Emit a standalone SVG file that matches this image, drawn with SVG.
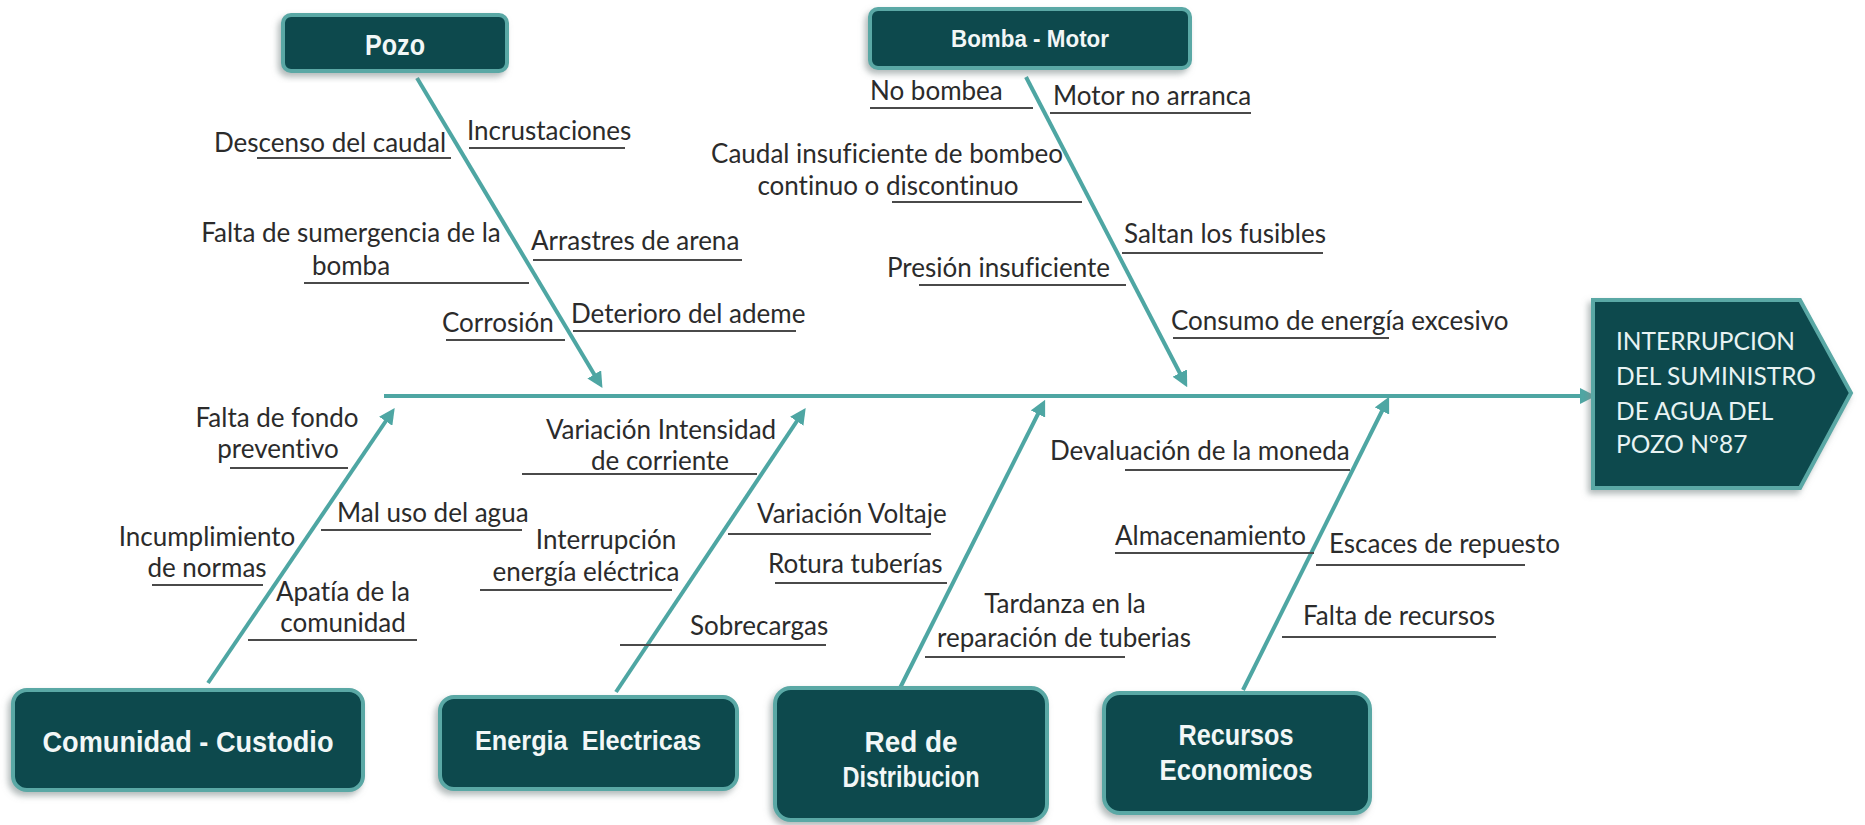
<svg xmlns="http://www.w3.org/2000/svg" width="1865" height="825" viewBox="0 0 1865 825">
  <defs>
    <style>
      .lbl { font-family: Lato, "Liberation Sans", sans-serif; font-size: 26px; fill: #2b2b2b; font-variant-ligatures: none; }
      .ul { stroke: #4a4a4a; stroke-width: 2; fill: none; }
      .box { fill: #0c4a4d; stroke: #5aa8a5; stroke-width: 4; filter: url(#sh); }
      .ttl { font-family: "Liberation Sans", Arial, sans-serif; font-weight: bold; fill: #f2f7f7; text-anchor: middle; }
      .eff { font-family: Lato, "Liberation Sans", sans-serif; font-size: 24.5px; fill: #e8f3f3; font-variant-ligatures: none; }
      .con { stroke: #4ea6a3; stroke-width: 4; fill: none; marker-end: url(#ah); }
    </style>
    <marker id="ah" viewBox="0 0 10 10" refX="7" refY="5" markerWidth="4" markerHeight="4" orient="auto" markerUnits="strokeWidth">
      <path d="M0,0 L10,5 L0,10 z" fill="#4ea6a3"/>
    </marker>
    <filter id="sh" x="-10%" y="-20%" width="120%" height="140%">
      <feDropShadow dx="-3" dy="4" stdDeviation="3" flood-color="#7f8c8c" flood-opacity="0.6"/>
    </filter>
  </defs>
  <rect width="1865" height="825" fill="#ffffff"/>

  <g id="connectors">
    <line class="con" x1="384" y1="396" x2="1591" y2="396"/>
    <line class="con" x1="417" y1="78" x2="600" y2="384"/>
    <line class="con" x1="1026" y1="77" x2="1185" y2="383"/>
    <line class="con" x1="208" y1="683" x2="392" y2="412"/>
    <line class="con" x1="616" y1="692" x2="803" y2="412"/>
    <line class="con" x1="900" y1="688" x2="1043" y2="404"/>
    <line class="con" x1="1243" y1="690" x2="1387" y2="401"/>
  </g>

  <g id="node-pozo">
    <rect class="box" x="283" y="15" width="224" height="56" rx="8"/>
    <text class="ttl" x="395" y="55" font-size="29" textLength="60" lengthAdjust="spacingAndGlyphs">Pozo</text>
  </g>
  <g id="node-bomba">
    <rect class="box" x="870" y="9" width="320" height="59" rx="8"/>
    <text class="ttl" x="1030" y="47" font-size="23" textLength="158" lengthAdjust="spacingAndGlyphs">Bomba - Motor</text>
  </g>
  <g id="node-comunidad">
    <rect class="box" x="13" y="690" width="350" height="100" rx="14"/>
    <text class="ttl" x="188" y="752" font-size="29" textLength="291" lengthAdjust="spacingAndGlyphs">Comunidad - Custodio</text>
  </g>
  <g id="node-energia">
    <rect class="box" x="440" y="697" width="297" height="92" rx="14"/>
    <text class="ttl" x="588" y="750" font-size="27" textLength="226" lengthAdjust="spacingAndGlyphs" xml:space="preserve">Energia  Electricas</text>
  </g>
  <g id="node-red">
    <rect class="box" x="775" y="688" width="272" height="132" rx="16"/>
    <text class="ttl" x="911" y="752" font-size="29" textLength="93" lengthAdjust="spacingAndGlyphs">Red de</text>
    <text class="ttl" x="911" y="787" font-size="29" textLength="137" lengthAdjust="spacingAndGlyphs">Distribucion</text>
  </g>
  <g id="node-recursos">
    <rect class="box" x="1104" y="693" width="266" height="120" rx="16"/>
    <text class="ttl" x="1236" y="745" font-size="29" textLength="115" lengthAdjust="spacingAndGlyphs">Recursos</text>
    <text class="ttl" x="1236" y="780" font-size="29" textLength="153" lengthAdjust="spacingAndGlyphs">Economicos</text>
  </g>
  <g id="node-efecto">
    <polygon class="box" points="1593,300 1800,300 1851,393 1800,488 1593,488"/>
    <text class="eff" x="1616" y="350">INTERRUPCION</text>
    <text class="eff" x="1616" y="385">DEL SUMINISTRO</text>
    <text class="eff" x="1616" y="420">DE AGUA DEL</text>
    <text class="eff" x="1616" y="453">POZO N°87</text>
  </g>

  <g id="causes-pozo">
    <text class="lbl" x="214" y="152">Descenso del caudal</text>
    <line class="ul" x1="257" y1="158" x2="451" y2="158"/>
    <text class="lbl" x="467" y="140">Incrustaciones</text>
    <line class="ul" x1="469" y1="148" x2="625" y2="148"/>
    <text class="lbl" x="351" y="242" text-anchor="middle">Falta de sumergencia de la</text>
    <text class="lbl" x="351" y="275" text-anchor="middle">bomba</text>
    <line class="ul" x1="304" y1="283" x2="529" y2="283"/>
    <text class="lbl" x="531" y="250">Arrastres de arena</text>
    <line class="ul" x1="533" y1="260" x2="742" y2="260"/>
    <text class="lbl" x="442" y="332">Corrosión</text>
    <line class="ul" x1="446" y1="340" x2="565" y2="340"/>
    <text class="lbl" x="571" y="323">Deterioro del ademe</text>
    <line class="ul" x1="573" y1="331" x2="796" y2="331"/>
  </g>

  <g id="causes-bomba">
    <text class="lbl" x="870" y="100">No bombea</text>
    <line class="ul" x1="870" y1="108" x2="1033" y2="108"/>
    <text class="lbl" x="1053" y="105">Motor no arranca</text>
    <line class="ul" x1="1050" y1="113" x2="1251" y2="113"/>
    <text class="lbl" x="887" y="163" text-anchor="middle">Caudal insuficiente de bombeo</text>
    <text class="lbl" x="888" y="195" text-anchor="middle">continuo o discontinuo</text>
    <line class="ul" x1="892" y1="202" x2="1082" y2="202"/>
    <text class="lbl" x="1124" y="243">Saltan los fusibles</text>
    <line class="ul" x1="1122" y1="253" x2="1323" y2="253"/>
    <text class="lbl" x="887" y="277">Presión insuficiente</text>
    <line class="ul" x1="919" y1="285" x2="1126" y2="285"/>
    <text class="lbl" x="1171" y="330">Consumo de energía excesivo</text>
    <line class="ul" x1="1173" y1="338" x2="1389" y2="338"/>
  </g>

  <g id="causes-comunidad">
    <text class="lbl" x="277" y="427" text-anchor="middle">Falta de fondo</text>
    <text class="lbl" x="278" y="458" text-anchor="middle">preventivo</text>
    <line class="ul" x1="230" y1="468" x2="348" y2="468"/>
    <text class="lbl" x="337" y="522">Mal uso del agua</text>
    <line class="ul" x1="321" y1="530" x2="522" y2="530"/>
    <text class="lbl" x="207" y="546" text-anchor="middle">Incumplimiento</text>
    <text class="lbl" x="207" y="577" text-anchor="middle">de normas</text>
    <line class="ul" x1="152" y1="585" x2="263" y2="585"/>
    <text class="lbl" x="343" y="601" text-anchor="middle">Apatía de la</text>
    <text class="lbl" x="343" y="632" text-anchor="middle">comunidad</text>
    <line class="ul" x1="248" y1="640" x2="417" y2="640"/>
  </g>

  <g id="causes-energia">
    <text class="lbl" x="661" y="439" text-anchor="middle">Variación Intensidad</text>
    <text class="lbl" x="660" y="470" text-anchor="middle">de corriente</text>
    <line class="ul" x1="522" y1="474" x2="757" y2="474"/>
    <text class="lbl" x="606" y="549" text-anchor="middle">Interrupción</text>
    <text class="lbl" x="586" y="581" text-anchor="middle">energía eléctrica</text>
    <line class="ul" x1="480" y1="590" x2="672" y2="590"/>
    <text class="lbl" x="757" y="523">Variación Voltaje</text>
    <line class="ul" x1="728" y1="534" x2="931" y2="534"/>
    <text class="lbl" x="768" y="573">Rotura tuberías</text>
    <line class="ul" x1="775" y1="583" x2="947" y2="583"/>
    <text class="lbl" x="690" y="635">Sobrecargas</text>
    <line class="ul" x1="620" y1="645" x2="826" y2="645"/>
  </g>

  <g id="causes-red">
    <text class="lbl" x="1065" y="613" text-anchor="middle">Tardanza en la</text>
    <text class="lbl" x="1064" y="647" text-anchor="middle">reparación de tuberias</text>
    <line class="ul" x1="925" y1="657" x2="1125" y2="657"/>
  </g>

  <g id="causes-recursos">
    <text class="lbl" x="1050" y="460">Devaluación de la moneda</text>
    <line class="ul" x1="1125" y1="470" x2="1350" y2="470"/>
    <text class="lbl" x="1115" y="545">Almacenamiento</text>
    <line class="ul" x1="1115" y1="553" x2="1314" y2="553"/>
    <text class="lbl" x="1329" y="553">Escaces de repuesto</text>
    <line class="ul" x1="1316" y1="565" x2="1525" y2="565"/>
    <text class="lbl" x="1303" y="625">Falta de recursos</text>
    <line class="ul" x1="1282" y1="637" x2="1496" y2="637"/>
  </g>
</svg>
